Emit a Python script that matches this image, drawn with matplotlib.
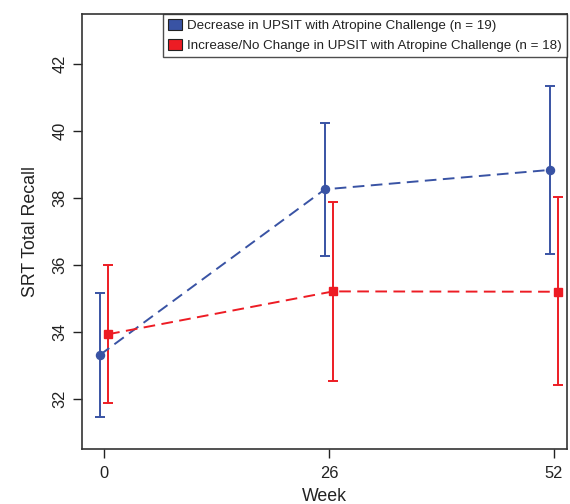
import matplotlib
matplotlib.use("Agg")
import matplotlib.pyplot as plt
from matplotlib.patches import Patch
import numpy as np

plt.rcParams['font.family'] = ['Liberation Sans', 'DejaVu Sans']

weeks = [0, 26, 52]
xticklabels = ["0", "26", "52"]
yticks = [32, 34, 36, 38, 40, 42]

dec_mean = [33.31, 38.26, 38.84]
dec_upper = [35.16, 40.24, 41.34]
dec_lower = [31.45, 36.27, 36.32]

inc_mean = [33.93, 35.21, 35.20]
inc_upper = [36.00, 37.87, 38.02]
inc_lower = [31.88, 32.54, 32.40]

labels = ["Decrease in UPSIT with Atropine Challenge (n = 19)",
          "Increase/No Change in UPSIT with Atropine Challenge (n = 18)"]

blue = "#3953A4"
red = "#ED1C24"

fig = plt.figure(figsize=(5.7, 5.04), dpi=100)
ax = fig.add_axes([82/570, 55/504, 485/570, 435/504])

off = 0.48
w = np.array(weeks, dtype=float)

def draw(x, m, lo, hi, color, marker, ms):
    m = np.array(m); lo = np.array(lo); hi = np.array(hi)
    ax.errorbar(x, m, yerr=[m - lo, hi - m], fmt='none', ecolor=color,
                elinewidth=1.4, capsize=3.8, capthick=1.4, zorder=2)
    ax.plot(x, m, linestyle=(0, (6, 3.3)), color=color, lw=1.4,
            marker=marker, markersize=ms, markerfacecolor=color,
            markeredgecolor=color, zorder=3)

draw(w - off, dec_mean, dec_lower, dec_upper, blue, 'o', 5.8)
draw(w + off, inc_mean, inc_lower, inc_upper, red, 's', 5.3)

ax.set_xlim(-2.54, 53.5)
ax.set_ylim(30.5, 43.5)
ax.set_xticks(weeks)
ax.set_xticklabels(xticklabels)
ax.set_yticks(yticks)
ax.set_yticklabels([str(v) for v in yticks], rotation=90, va='center')
ax.tick_params(axis='both', labelsize=11.8, length=6.5, width=1.0,
               color='#222222', labelcolor='#222222')
ax.tick_params(axis='x', pad=6)
ax.tick_params(axis='y', pad=4)
for s in ax.spines.values():
    s.set_color('#333333')
    s.set_linewidth(1.2)

ax.set_xlabel("Week", fontsize=12.8, color='#222222', labelpad=4.5)
ax.set_ylabel("SRT Total Recall", fontsize=12.8, color='#222222', labelpad=10)

handles = [Patch(facecolor=blue, edgecolor='#222222', lw=0.8),
           Patch(facecolor=red, edgecolor='#222222', lw=0.8)]
leg = ax.legend(handles, labels, loc='upper right', bbox_to_anchor=(1.0, 1.0),
                borderaxespad=0, fontsize=9.6, frameon=True, fancybox=False,
                edgecolor='#222222', handlelength=1.0, handleheight=0.85,
                handletextpad=0.4, labelspacing=0.5, borderpad=0.4)
leg.get_frame().set_linewidth(1.0)
for t in leg.get_texts():
    t.set_color('#222222')

fig.savefig("out.png", dpi=100)
